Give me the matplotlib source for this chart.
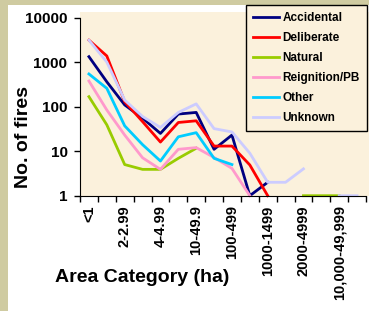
"""Fires by area category, log scale, one line per cause."""
import numpy as np
import matplotlib
matplotlib.use("Agg")
import matplotlib.pyplot as plt
from matplotlib.patches import Rectangle

plt.rcParams["font.family"] = ["Liberation Sans", "DejaVu Sans"]
plt.rcParams["font.weight"] = "bold"

nan = np.nan
categories = ["<1", "1-1.99", "2-2.99", "3-3.99", "4-4.99", "5-9.99", "10-49.9", "50-99",
              "100-499", "500-999", "1000-1499", "1500-1999", "2000-4999", "5000-9999",
              "10,000-49,999", ">50,000"]
accidental = [1320, 360, 109, 55, 25, 68, 74, 11, 23, 1, 2, nan, nan, nan, nan, nan]
deliberate = [3100, 1370, 129, 46, 16, 44, 48, 13, 13, 4.9, 1, nan, nan, nan, nan, nan]
natural = [167, 39, 5, 3.9, 3.9, 6.9, 11.6, nan, nan, nan, nan, nan, 1, 1, 1, nan]
reignition = [375, 84, 23, 7.1, 3.9, 11, 12, 7.2, 4.1, 1, nan, nan, nan, nan, nan, nan]
other = [540, 257, 37, 14, 6, 21, 26, 6.9, 5, nan, nan, nan, nan, nan, nan, nan]
unknown = [3100, 1000, 140, 60, 34, 74, 115, 32, 27, 9, 2, 2, 4, nan, 1, 1]

series = [("Accidental", accidental, "#000080"),
          ("Deliberate", deliberate, "#FF0000"),
          ("Natural", natural, "#99CC00"),
          ("Reignition/PB", reignition, "#FF99CC"),
          ("Other", other, "#00CCFF"),
          ("Unknown", unknown, "#CCCCFF")]

W, H = 369, 311
fig = plt.figure(figsize=(W / 100, H / 100), dpi=100)
fig.patch.set_facecolor("#CFCBA1")
fig.patches.append(Rectangle((8 / W, 0), 1, 1 - 5 / H, transform=fig.transFigure,
                             facecolor="white", edgecolor="none", zorder=-2))
fig.patches.append(Rectangle((80 / W, 1 - 196 / H), 1, (196 - 12) / H, transform=fig.transFigure,
                             facecolor="#FBF1DC", edgecolor="none", zorder=-1))

ax = fig.add_axes([80 / W, 1 - 195.7 / H, 286 / W, (195.7 - 17.5) / H])
ax.set_zorder(2)
ax.set_facecolor("none")
x = np.arange(len(categories))
for name, vals, col in series:
    ax.plot(x, vals, color=col, lw=2, label=name, clip_on=False)

ax.set_yscale("log")
ax.set_ylim(1, 10000)
ax.set_yticks([1, 10, 100, 1000, 10000])
ax.set_yticklabels(["1", "10", "100", "1000", "10000"])
ax.yaxis.set_minor_locator(matplotlib.ticker.NullLocator())
ax.set_xlim(-0.5, len(categories) - 0.5)
ax.set_xticks(np.arange(len(categories) + 1) - 0.5)
ax.set_xticklabels([])
ax.set_xticks(x, minor=True)
ax.set_xticklabels([c if i % 2 == 0 else "" for i, c in enumerate(categories)],
                   minor=True, rotation=90, va="top")
ax.tick_params(axis="x", which="minor", length=0, pad=7, labelsize=10.5)
ax.tick_params(axis="x", which="major", length=4, width=1)
ax.tick_params(axis="y", length=4, width=1, pad=5, labelsize=11)
for s in ["top", "right"]:
    ax.spines[s].set_visible(False)

fig.text(24 / W, 1 - 137 / H, "No. of fires", rotation=90, ha="center", va="center",
         fontsize=14, fontweight="bold")
fig.text(142 / W, 1 - 278 / H, "Area Category (ha)", ha="center", va="center",
         fontsize=14, fontweight="bold")

leg = ax.legend(loc="upper right", bbox_to_anchor=(367 / W, 1 - 5 / H),
                bbox_transform=fig.transFigure, fontsize=8.5, frameon=True, fancybox=False,
                borderaxespad=0, handlelength=2.2, handletextpad=0.3, labelspacing=0.68,
                borderpad=0.6)
leg.get_frame().set_facecolor("#FBF1DC")
leg.get_frame().set_edgecolor("black")
leg.get_frame().set_linewidth(1)
leg.get_frame().set_alpha(1)

fig.savefig("out.png", dpi=100, facecolor=fig.get_facecolor())
plt.close(fig)
